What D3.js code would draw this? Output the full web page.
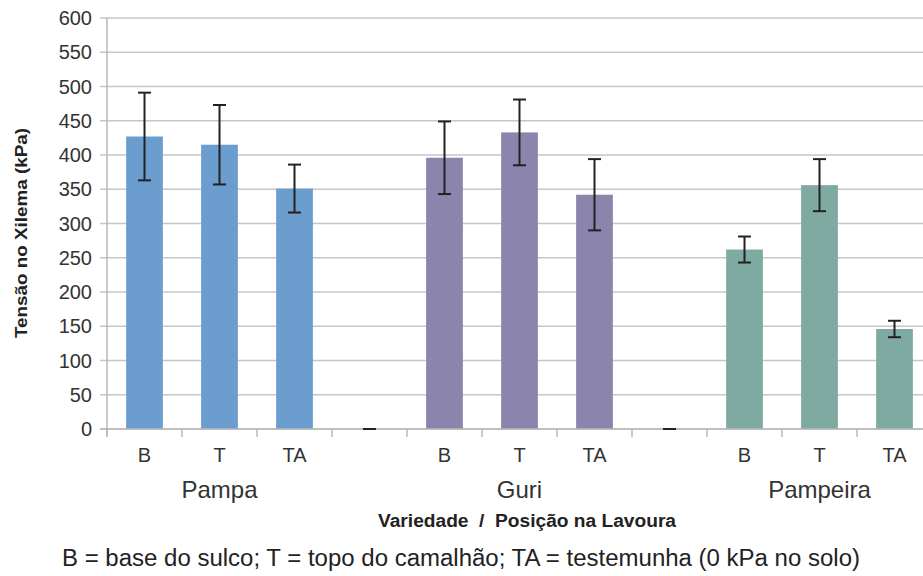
<!DOCTYPE html>
<html>
<head>
<meta charset="utf-8">
<script src="https://cdn.jsdelivr.net/npm/d3@7"></script>
<style>
  body { margin:0; background:#fff; }
  svg { display:block; font-family:"Liberation Sans", Arial, sans-serif; }
  .grid line { stroke:#c6c6c6; stroke-width:1.5; }
  .tick-label { fill:#333; font-size:20px; }
</style>
</head>
<body>
<script>
// categories: 3 varieties x 3 positions, with an empty slot between groups
var positions = ["B", "T", "TA", "", "B", "T", "TA", "", "B", "T", "TA"];
var variety   = ["Pampa", "Pampa", "Pampa", null, "Guri", "Guri", "Guri", null, "Pampeira", "Pampeira", "Pampeira"];
var tension   = [427, 415, 351, 0, 396, 433, 342, 0, 262, 356, 146];
var errors    = [64, 58, 35, 0, 53, 48, 52, 0, 19, 38, 12];
var groups    = ["Pampa", "Guri", "Pampeira"];
var yTicks    = [0, 50, 100, 150, 200, 250, 300, 350, 400, 450, 500, 550, 600];

var colors = { "Pampa": "#6c9dcf", "Guri": "#8b85ae", "Pampeira": "#7eaaa2" };

var width = 923, height = 576;
var mLeft = 107, mRight = 932, mTop = 18, mBottom = 429;

var svg = d3.select("body").append("svg")
  .attr("width", width)
  .attr("height", height);

var x = d3.scaleBand()
  .domain(d3.range(positions.length))
  .range([mLeft, mRight])
  .paddingInner(0);

var y = d3.scaleLinear()
  .domain([0, 600])
  .range([mBottom, mTop]);

var rows = tension.map(function(v, i) {
  return { i: i, v: v, err: errors[i], variety: variety[i] };
});

// horizontal grid
svg.append("g").attr("class", "grid")
  .selectAll("line")
  .data(yTicks)
  .enter().append("line")
  .attr("x1", mLeft - 7)
  .attr("x2", mRight)
  .attr("y1", d => y(d))
  .attr("y2", d => y(d));

// y axis line
svg.append("line")
  .attr("x1", mLeft).attr("x2", mLeft)
  .attr("y1", mTop).attr("y2", mBottom + 8)
  .attr("stroke", "#b8b8b8").attr("stroke-width", 1.5);

// y tick labels
svg.append("g")
  .selectAll("text")
  .data(yTicks)
  .enter().append("text")
  .attr("class", "tick-label")
  .attr("x", mLeft - 15)
  .attr("y", d => y(d))
  .attr("dy", "0.35em")
  .attr("text-anchor", "end")
  .text(d => d);

// x axis ticks at band boundaries
var bounds = d3.range(positions.length + 1).map(function(i) {
  return i < positions.length ? x(i) : x(i - 1) + x.bandwidth();
});
svg.append("g")
  .selectAll("line")
  .data(bounds)
  .enter().append("line")
  .attr("x1", d => d).attr("x2", d => d)
  .attr("y1", mBottom).attr("y2", mBottom + 8)
  .attr("stroke", "#b8b8b8").attr("stroke-width", 1.5);

// bars
var bw = x.bandwidth() * 0.49;
svg.append("g")
  .selectAll("rect")
  .data(rows.filter(d => d.variety !== null))
  .enter().append("rect")
  .attr("x", d => x(d.i) + (x.bandwidth() - bw) / 2)
  .attr("y", d => y(d.v))
  .attr("width", bw)
  .attr("height", d => mBottom - y(d.v))
  .attr("fill", d => colors[d.variety]);

// x axis baseline
svg.append("line")
  .attr("x1", mLeft - 7).attr("x2", mRight)
  .attr("y1", mBottom).attr("y2", mBottom)
  .attr("stroke", "#b8b8b8").attr("stroke-width", 1.5);

// error bars
var cap = 6.5;
var eb = svg.append("g").attr("stroke", "#222").attr("stroke-width", 2);
rows.forEach(function(d) {
  var cx = x(d.i) + x.bandwidth() / 2;
  var hi = y(d.v + d.err), lo = y(d.v - d.err);
  eb.append("line").attr("x1", cx).attr("x2", cx).attr("y1", hi).attr("y2", lo);
  eb.append("line").attr("x1", cx - cap).attr("x2", cx + cap).attr("y1", hi).attr("y2", hi);
  eb.append("line").attr("x1", cx - cap).attr("x2", cx + cap).attr("y1", lo).attr("y2", lo);
});

// position labels
svg.append("g")
  .selectAll("text")
  .data(positions)
  .enter().append("text")
  .attr("class", "tick-label")
  .attr("x", function(d, i) { return x(i) + x.bandwidth() / 2; })
  .attr("y", 462)
  .attr("text-anchor", "middle")
  .text(d => d);

// variety labels
svg.append("g")
  .selectAll("text")
  .data(groups)
  .enter().append("text")
  .attr("fill", "#333")
  .attr("font-size", "24px")
  .attr("text-anchor", "middle")
  .attr("y", 498)
  .attr("x", function(g) {
    var idx = d3.range(variety.length).filter(i => variety[i] === g);
    return (x(idx[0]) + x(idx[idx.length - 1]) + x.bandwidth()) / 2;
  })
  .text(d => d);

// axis titles
svg.append("text")
  .attr("x", 527).attr("y", 527)
  .attr("text-anchor", "middle")
  .attr("font-size", "18px").attr("font-weight", "bold").attr("fill", "#222")
  .attr("textLength", 298).attr("lengthAdjust", "spacingAndGlyphs")
  .attr("xml:space", "preserve")
  .text("Variedade  /  Posição na Lavoura");

svg.append("text")
  .attr("transform", "translate(27,233) rotate(-90)")
  .attr("text-anchor", "middle")
  .attr("font-size", "17px").attr("font-weight", "bold").attr("fill", "#222")
  .attr("textLength", 210).attr("lengthAdjust", "spacingAndGlyphs")
  .text("Tensão no Xilema (kPa)");

// footnote
svg.append("text")
  .attr("x", 461).attr("y", 566)
  .attr("text-anchor", "middle")
  .attr("font-size", "23px").attr("fill", "#222")
  .attr("textLength", 798).attr("lengthAdjust", "spacingAndGlyphs")
  .text("B = base do sulco; T = topo do camalhão; TA = testemunha (0 kPa no solo)");
</script>
</body>
</html>
